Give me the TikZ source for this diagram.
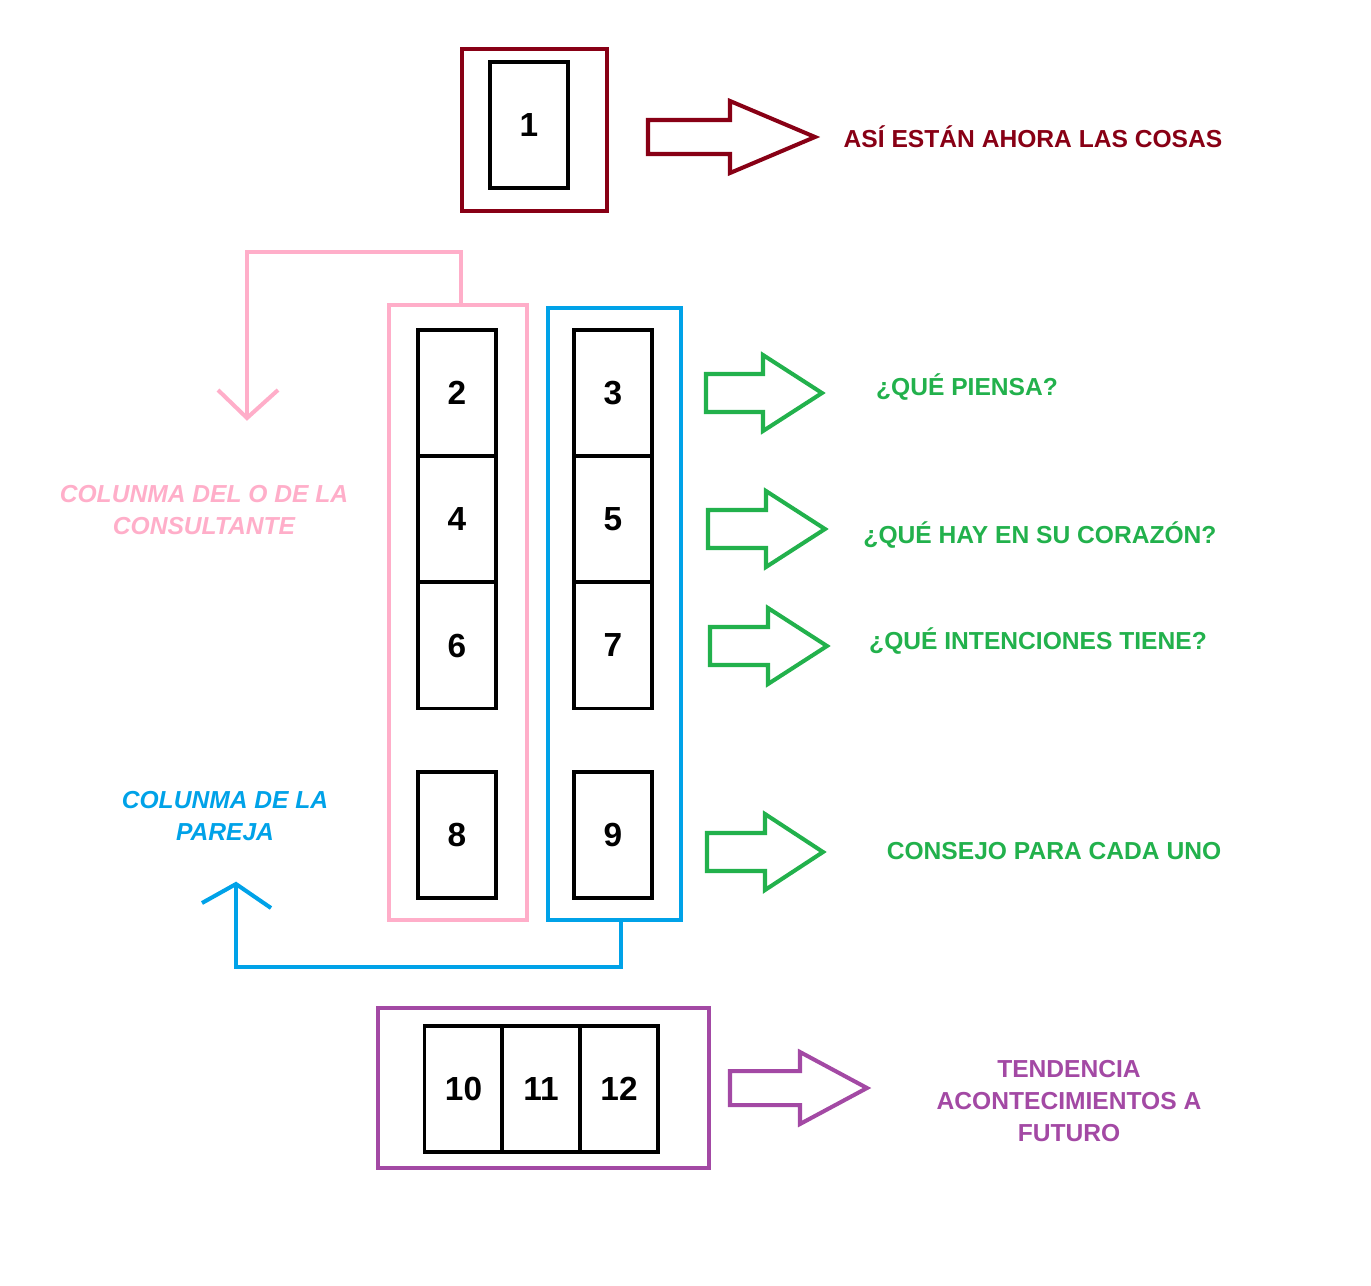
\documentclass[tikz,border=0pt]{standalone}
\usepackage{fontspec}
\setmainfont{Liberation Sans}
\definecolor{dred}{RGB}{136,0,21}
\definecolor{pk}{RGB}{255,174,201}
\definecolor{bl}{RGB}{0,162,232}
\definecolor{gr}{RGB}{34,177,76}
\definecolor{pu}{RGB}{163,73,164}
\newcommand\blkarrow[8]{% color, x0, xh, xtip, yc, shaft half, head half, name
  \draw[#1,line width=2.3pt,line join=miter] (#2,#5-#6) -- (#3,#5-#6) -- (#3,#5-#7) -- (#4,#5) coordinate (#8) -- (#3,#5+#7) -- (#3,#5+#6) -- (#2,#5+#6) -- cycle;}
\begin{document}
\begin{tikzpicture}[x=0.02cm,y=-0.02cm,
  frame/.style={line width=2.4pt},
  cell/.style={draw=black,line width=1.8pt,minimum width=1.56cm,minimum height=2.52cm,font=\bfseries\fontsize{19}{22}\selectfont,inner sep=0pt},
  lbl/.style={font=\bfseries\fontsize{14}{18}\selectfont,align=center},
  ilbl/.style={font=\bfseries\itshape\fontsize{14}{18}\selectfont,align=center}]
\useasboundingbox (0,0) rectangle (1371,1285);
% box 1
\draw[dred,frame] (462,49) rectangle (607,211);
\node[cell] (c1) at (529,125) {1};
\blkarrow{dred}{648}{730}{815}{137}{17}{36}{a1}
\node[lbl,dred] (t1) at (1033,137) {ASÍ ESTÁN AHORA LAS COSAS};
% columns
\draw[pk,frame] (389,305) rectangle (527,920);
\draw[bl,frame] (548,308) rectangle (681,920);
\node[cell] (c2) at (457,393) {2};
\node[cell] (c4) at (457,519) {4};
\node[cell] (c6) at (457,645.5) {6};
\node[cell] (c8) at (457,835) {8};
\node[cell] (c3) at (613,393) {3};
\node[cell] (c5) at (613,519) {5};
\node[cell] (c7) at (613,645.5) {7};
\node[cell] (c9) at (613,835) {9};
% connectors
\coordinate (ptop) at (461,305);
\coordinate (pend) at (247,418);
\draw[pk,line width=2.3pt] (ptop) -- (461,252) -- (247,252) -- (pend);
\draw[pk,line width=2.3pt] (218,390) -- (pend) -- (278,390);
\coordinate (bbot) at (621,920);
\coordinate (bend) at (236,884);
\draw[bl,line width=2.3pt] (bbot) -- (621,967) -- (236,967) -- (bend);
\draw[bl,line width=2.3pt] (202,903) -- (bend) -- (271,908);
\node[ilbl,pk] (tp) at (204,510) {COLUNMA DEL O DE LA\\CONSULTANTE};
\node[ilbl,bl] (tb) at (225,816) {COLUNMA DE LA\\PAREJA};
% green arrows
\blkarrow{gr}{706}{763}{822}{393}{19}{38}{g1}
\blkarrow{gr}{708}{766}{825}{529}{19}{38}{g2}
\blkarrow{gr}{710}{768}{827}{646}{19}{38}{g3}
\blkarrow{gr}{707}{765}{823}{852}{19}{38}{g4}
\node[lbl,gr] (q1) at (967,387) {¿QUÉ PIENSA?};
\node[lbl,gr] (q2) at (1040,535) {¿QUÉ HAY EN SU CORAZÓN?};
\node[lbl,gr] (q3) at (1038,641) {¿QUÉ INTENCIONES TIENE?};
\node[lbl,gr] (q4) at (1054,851) {CONSEJO PARA CADA UNO};
% bottom
\draw[pu,frame] (378,1008) rectangle (709,1168);
\node[cell] (c10) at (463.5,1089) {10};
\node[cell] (c11) at (541,1089) {11};
\node[cell] (c12) at (619,1089) {12};
\blkarrow{pu}{730}{800}{867}{1088}{17}{36}{a5}
\node[lbl,pu] (tf) at (1069,1101) {TENDENCIA\\ACONTECIMIENTOS A\\FUTURO};
\end{tikzpicture}
\end{document}
